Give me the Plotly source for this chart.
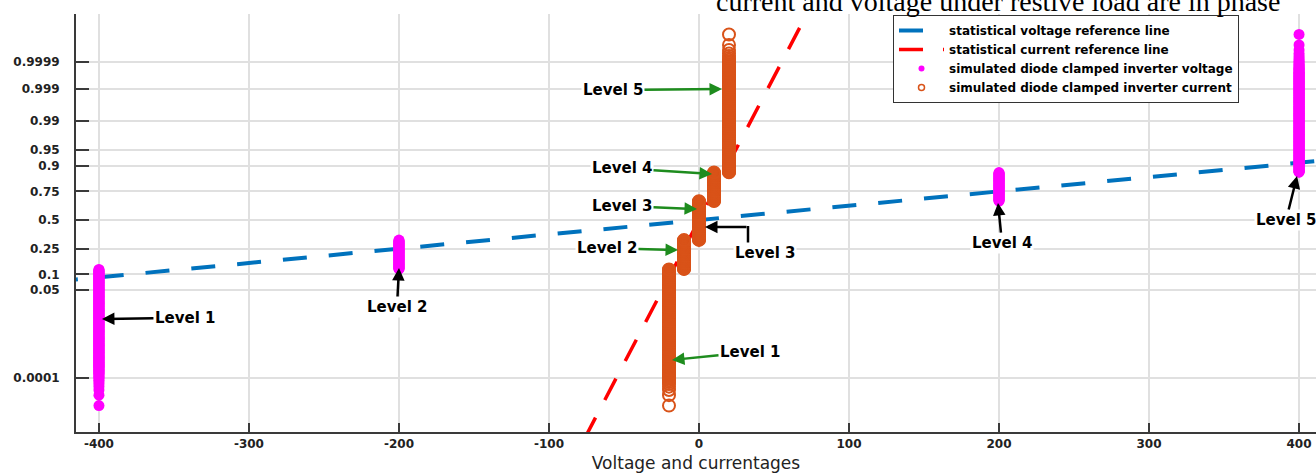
import numpy as np
import plotly.graph_objects as go
from statistics import NormalDist

# ---------------- data ----------------
volt_levels = [-400, -200, 0, 200, 400]
volt_counts = [10000, 15600, 28200, 15800, 10400]
curr_levels = [-20, -10, 0, 10, 20]
curr_counts = [10000, 15600, 28200, 15800, 10400]

prob_ticks = [0.0001, 0.05, 0.1, 0.25, 0.5, 0.75, 0.9, 0.95, 0.99, 0.999, 0.9999]
prob_tick_labels = ["0.0001", "0.05", "0.1", "0.25", "0.5", "0.75", "0.9",
                    "0.95", "0.99", "0.999", "0.9999"]
x_ticks = [-400, -300, -200, -100, 0, 100, 200, 300, 400]
x_tick_labels = ["-400", "-300", "-200", "-100", "0", "100", "200", "300", "400"]

legend_names = ["statistical voltage reference line",
                "statistical current reference line",
                "simulated diode clamped inverter voltage",
                "simulated diode clamped inverter current"]
title_text = "current and voltage under restive load are in phase"
x_title = "Voltage and currentages"

nd = NormalDist()


def prob_points(levels, counts, step=0.015):
    """Normal probability plot positions (i-0.5)/n, thinned to visible ones."""
    n = sum(counts)
    xs, zs = [], []
    i = 0
    for lv, c in zip(levels, counts):
        seen = set()
        for k in range(i, i + c):
            z = nd.inv_cdf((k + 0.5) / n)
            key = round(z / step)
            if key not in seen:
                seen.add(key)
                xs.append(lv)
                zs.append(z)
        i += c
    return xs, zs


def quartile_line(levels, counts, xr):
    vals = np.repeat(levels, counts)
    q1, q3 = np.quantile(vals, 0.25), np.quantile(vals, 0.75)
    z1, z3 = nd.inv_cdf(0.25), nd.inv_cdf(0.75)
    slope = (z3 - z1) / (q3 - q1)
    return [xr[0], xr[1]], [z1 + slope * (xr[0] - q1), z1 + slope * (xr[1] - q1)]


vx, vz = prob_points(volt_levels, volt_counts)
cx, cz = prob_points(curr_levels, curr_counts)
bl_x, bl_z = quartile_line(volt_levels, volt_counts, (-430, 430))
rl_x, rl_z = quartile_line(curr_levels, curr_counts, (-90, 90))

BLUE = "#0072BD"
RED = "#FF0000"
MAG = "#FF00FF"
ORANGE = "#D95319"
GREEN = "#1E8C1E"

fig = go.Figure()
fig.add_trace(go.Scatter(x=bl_x, y=bl_z, mode="lines", name=legend_names[0],
                         line=dict(color=BLUE, width=4, dash="24px,22px"),
                         hoverinfo="skip"))
fig.add_trace(go.Scatter(x=rl_x, y=rl_z, mode="lines", name=legend_names[1],
                         line=dict(color=RED, width=3.5, dash="24px,20px"),
                         hoverinfo="skip"))
fig.add_trace(go.Scatter(x=vx, y=vz, mode="markers", name=legend_names[2],
                         showlegend=False,
                         marker=dict(color=MAG, size=11, line=dict(width=0))))
fig.add_trace(go.Scatter(x=cx, y=cz, mode="markers", name=legend_names[3],
                         showlegend=False,
                         marker=dict(color=ORANGE, size=12, symbol="circle-open",
                                     line=dict(width=2, color=ORANGE))))
# legend entries with small symbols
fig.add_trace(go.Scatter(x=[None], y=[None], mode="markers", name=legend_names[2],
                         marker=dict(color=MAG, size=6)))
fig.add_trace(go.Scatter(x=[None], y=[None], mode="markers", name=legend_names[3],
                         marker=dict(color=ORANGE, size=6, symbol="circle-open",
                                     line=dict(width=1.5, color=ORANGE))))

PX_X = 1.5      # px per x unit
PX_Z = 42.5     # px per z unit


def to_data(px, py):
    return (px - 699) / PX_X, (220 - py) / PX_Z


lab_font = dict(family="DejaVu Sans", size=15, color="black", weight="bold")
annots = []
# (tip_px, tip_py, text_cx, text_cy, color)
arrows = [
    (102, 319, 185, 318, "black"),
    (399, 268, 397, 307, "black"),
    (998, 203, 1002, 243, "black"),
    (1297, 176, 1286, 220, "black"),
    (672, 360, 750, 352, GREEN),
    (678, 250, 607, 248, GREEN),
    (697, 209, 622, 206, GREEN),
    (712, 174, 622, 168, GREEN),
    (722, 89, 613, 90, GREEN),
]
arrow_texts = ["Level 1", "Level 2", "Level 4", "Level 5",
               "Level 1", "Level 2", "Level 3", "Level 4", "Level 5"]
for (tx, ty, cxp, cyp, col), t in zip(arrows, arrow_texts):
    xd, zd = to_data(tx, ty)
    annots.append(dict(x=xd, y=zd, xref="x", yref="y", text=t, showarrow=True,
                       ax=cxp - tx, ay=cyp - ty, arrowcolor=col, arrowwidth=2.5,
                       arrowhead=2, arrowsize=1, font=lab_font, bgcolor="white"))
# elbow arrow for voltage level 3
xd, zd = to_data(705, 227)
annots.append(dict(x=xd, y=zd, xref="x", yref="y", text="", showarrow=True,
                   ax=43, ay=0, arrowcolor="black", arrowwidth=2.5, arrowhead=2,
                   arrowsize=1))
xt, zt = to_data(765, 253)
annots.append(dict(x=xt, y=zt, xref="x", yref="y", text="Level 3", showarrow=False,
                   font=lab_font, bgcolor="white"))
ex, ez0 = to_data(748, 245)
_, ez1 = to_data(748, 226)
shapes = [dict(type="line", xref="x", yref="y", x0=ex, x1=ex, y0=ez0, y1=ez1,
               line=dict(color="black", width=2.5))]

# title (partly cut at the top in the reference)
annots.append(dict(x=(998 - 76) / 1240, y=1.029, xref="paper", yref="paper",
                   text=title_text, showarrow=False, xanchor="center", yanchor="middle",
                   font=dict(family="Liberation Serif", size=28, color="black")))

tick_font = dict(family="DejaVu Sans", size=12, color="#222222", weight="bold")
AX = "#3a3a3a"
GRID = "#e0e0e0"

fig.update_layout(
    width=1316, height=473,
    margin=dict(l=76, r=0, t=14, b=41, autoexpand=False),
    paper_bgcolor="white", plot_bgcolor="white",
    showlegend=True,
    legend=dict(x=(893 - 76) / 1240, y=(432 - 15) / 418, xanchor="left", yanchor="top",
                bgcolor="white", bordercolor="#333333", borderwidth=1,
                font=dict(family="DejaVu Sans", size=12, color="black", weight="bold"),
                itemwidth=45, tracegroupgap=0),
    annotations=annots,
    shapes=shapes,
    xaxis=dict(range=[-415.3, 411.3], tickvals=x_ticks, ticktext=x_tick_labels,
               showgrid=True, gridcolor=GRID, gridwidth=1.5, zeroline=False,
               showline=True, linecolor=AX, linewidth=2,
               ticks="inside", ticklen=9, tickwidth=1.5, tickcolor=AX,
               tickfont=tick_font,
               title=dict(text=x_title, standoff=8,
                          font=dict(family="DejaVu Sans", size=17, color="#222222"))),
    yaxis=dict(range=[-4.99, 4.85],
               tickvals=[nd.inv_cdf(p) for p in prob_ticks], ticktext=prob_tick_labels,
               showgrid=True, gridcolor=GRID, gridwidth=1.5, zeroline=False,
               showline=True, linecolor=AX, linewidth=2,
               ticks="inside", ticklen=13, tickwidth=1.5, tickcolor=AX,
               tickfont=tick_font, ticklabelstandoff=12),
)

fig.write_html("out.html")
